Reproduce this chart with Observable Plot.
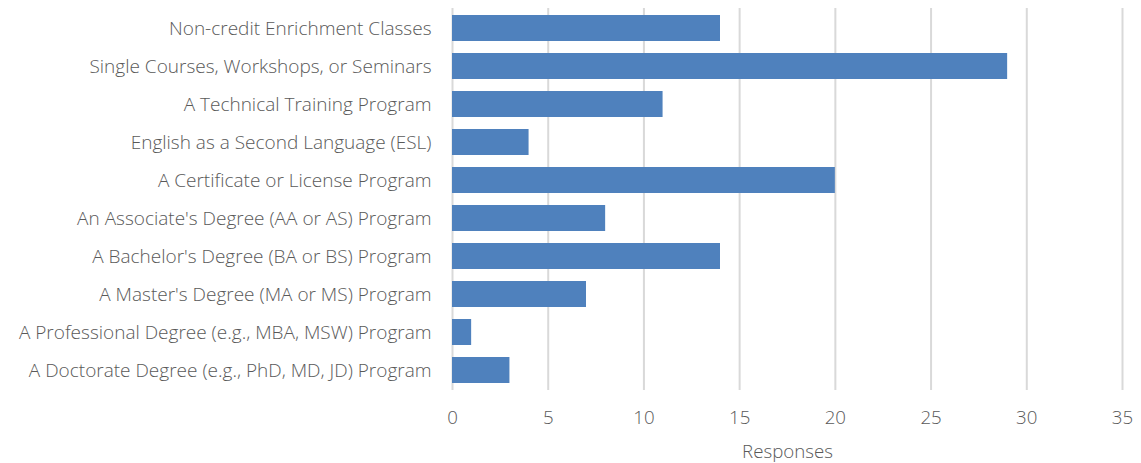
<!DOCTYPE html>
<html>
<head>
<meta charset="utf-8">
<script src="https://cdn.jsdelivr.net/npm/d3@7"></script>
<script src="https://cdn.jsdelivr.net/npm/@observablehq/plot@0.6"></script>
<style>
  html, body { margin: 0; padding: 0; background: #ffffff; }
  #chart svg { display: block; }
</style>
</head>
<body>
<div id="chart"></div>
<script>
const categories = [
  "Non-credit Enrichment Classes",
  "Single Courses, Workshops, or Seminars",
  "A Technical Training Program",
  "English as a Second Language (ESL)",
  "A Certificate or License Program",
  "An Associate's Degree (AA or AS) Program",
  "A Bachelor's Degree (BA or BS) Program",
  "A Master's Degree (MA or MS) Program",
  "A Professional Degree (e.g., MBA, MSW) Program",
  "A Doctorate Degree (e.g., PhD, MD, JD) Program"
];
const responses = [14, 29, 11, 4, 20, 8, 14, 7, 1, 3];
const xTicks = [0, 5, 10, 15, 20, 25, 30, 35];

const data = categories.map((c, i) => ({category: c, value: responses[i]}));

const chart = Plot.plot({
  width: 1141,
  height: 463,
  marginLeft: 452,
  marginRight: 19,
  marginTop: 8,
  marginBottom: 73,
  style: {fontFamily: "'Open Sans', 'Noto Sans', sans-serif", fontWeight: 300, color: "#595959", background: "#ffffff"},
  x: {domain: [0, 35]},
  y: {domain: categories, paddingInner: 0.32, paddingOuter: 0.16},
  marks: [
    Plot.gridX(xTicks, {stroke: "#d9d9d9", strokeOpacity: 1, strokeWidth: 2}),
    Plot.barX(data, {y: "category", x: "value", fill: "#4f81bd"}),
    Plot.axisY({tickSize: 0, tickPadding: 21, fontSize: 19, label: null}),
    Plot.axisX(xTicks, {tickSize: 0, tickPadding: 20, fontSize: 18.7, label: "Responses", labelAnchor: "center", labelArrow: "none", labelOffset: 67})
  ]
});
document.getElementById("chart").appendChild(chart);
</script>
</body>
</html>
